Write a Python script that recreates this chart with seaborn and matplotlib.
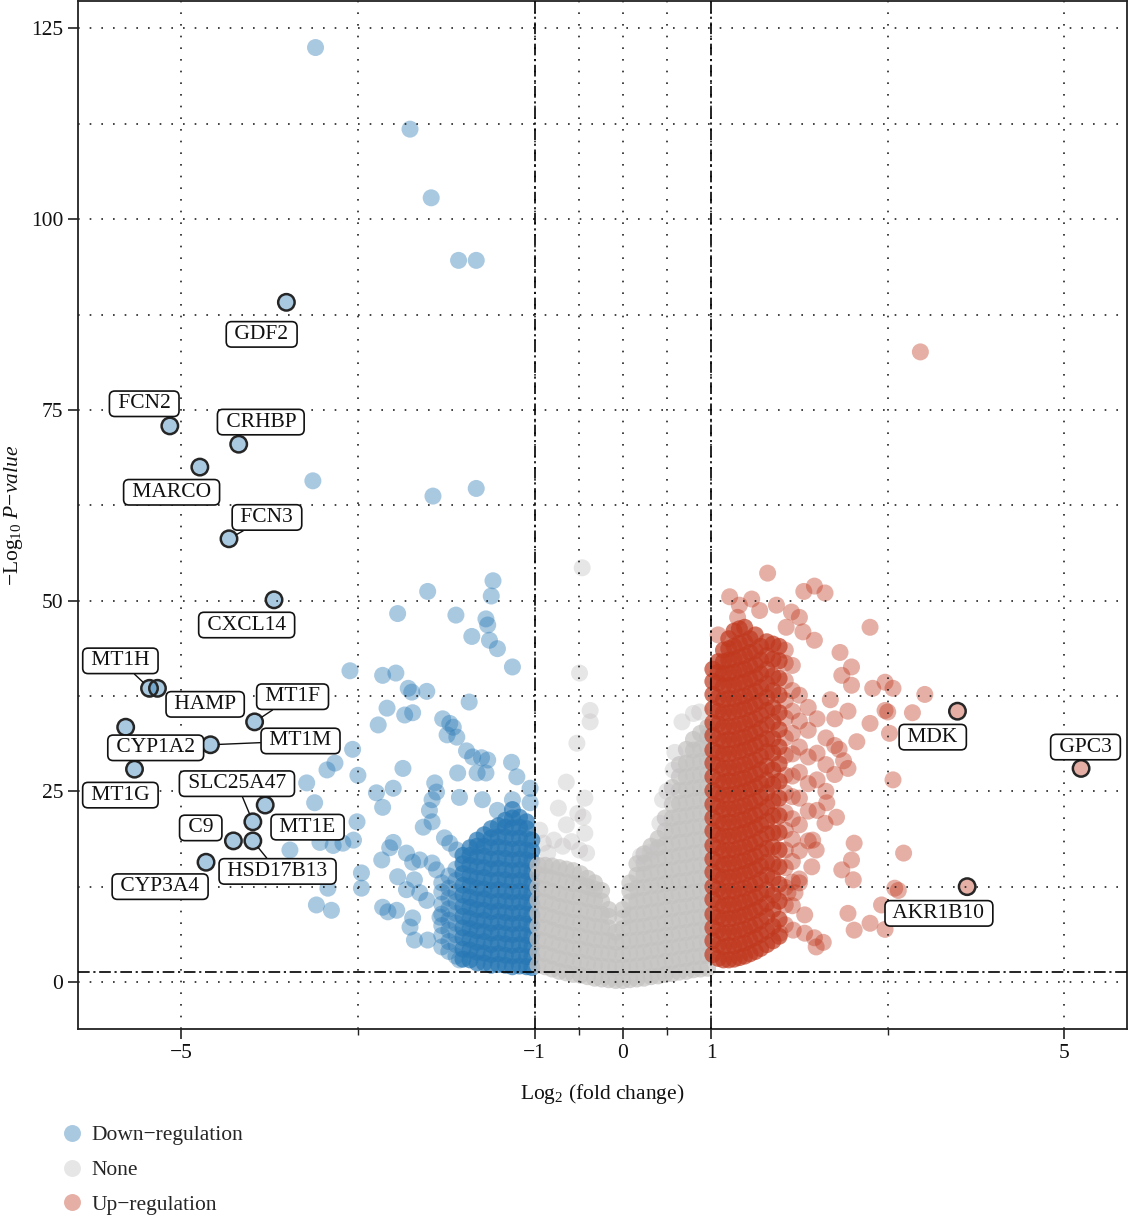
import matplotlib
matplotlib.use("Agg")
import matplotlib.pyplot as plt
import seaborn as sns
import pandas as pd
from matplotlib.lines import Line2D

# ---------------- data ----------------
# labelled genes
lab_gene = ["GDF2", "FCN2", "CRHBP", "MARCO", "FCN3", "CXCL14", "MT1H", "HAMP",
            "MT1F", "CYP1A2", "MT1M", "MT1G", "MT1E", "SLC25A47", "C9", "HSD17B13",
            "CYP3A4", "MDK", "GPC3", "AKR1B10"]
lab_x = [-3.81, -5.13, -4.35, -4.79, -4.46, -3.95, -5.36, -5.27, -4.17, -5.63,
         -4.67, -5.53, -4.05, -4.19, -4.41, -4.19, -4.72, 3.79, 5.19, 3.90]
lab_y = [89.1, 72.9, 70.5, 67.5, 58.1, 50.1, 38.5, 38.5, 34.1, 33.4,
         31.1, 27.9, 23.2, 21.0, 18.5, 18.5, 15.7, 35.5, 28.0, 12.5]
lab_tx = [-4.09, -5.42, -4.10, -5.11, -4.03, -4.26, -5.69, -4.73, -3.74, -5.29,
          -3.65, -5.69, -3.57, -4.37, -4.78, -3.91, -5.24, 3.51, 5.24, 3.58]
lab_ty = [84.9, 75.8, 73.4, 64.2, 60.9, 46.8, 42.1, 36.4, 37.4, 30.7,
          31.6, 24.5, 20.3, 26.0, 20.2, 14.5, 12.5, 32.1, 30.8, 9.0]
lab_leader = [False, False, False, False, True, False, True, False, True, False,
              True, False, False, True, False, True, False, False, False, False]

# down-regulated, scattered points
down_x = [-3.48, -2.41, -2.17, -1.86, -1.66, -3.51, -2.15, -1.66, -2.21, -1.47,
          -1.49, -2.55, -1.89, -1.55, -1.53, -1.71, -1.51, -1.42, -1.25, -3.09,
          -2.72, -2.57, -2.43, -2.39, -2.22, -1.74, -2.67, -2.47, -2.38, -2.77,
          -2.04, -1.96, -1.92, -1.99, -1.88, -3.06, -1.77, -1.70, -1.60, -1.53,
          -1.26, -3.26, -3.35, -2.49, -1.87, -1.55, -3.00, -1.20, -3.58, -3.49,
          -2.79, -2.60, -2.72, -3.01, -3.05, -3.43, -3.28, -3.17, -3.77, -2.96,
          -2.96, -3.34, -3.47, -3.30, -2.13, -2.11, -2.16, -2.19, -2.26, -2.16,
          -1.85, -1.65, -1.59, -1.42, -1.25, -1.05, -1.05, -2.02, -1.96, -1.88,
          -2.60, -2.64, -2.73, -2.45, -2.38, -2.30, -2.16, -2.11, -2.55, -2.36,
          -2.45, -2.30, -2.22, -2.72, -2.56, -2.66, -2.38, -2.41, -2.36, -2.21,
          -2.07, -1.85]
down_y = [122.5, 111.8, 102.8, 94.6, 94.6, 65.7, 63.7, 64.7, 51.2, 52.6,
          50.6, 48.3, 48.1, 47.6, 46.8, 45.3, 44.8, 43.7, 41.3, 40.8,
          40.2, 40.5, 38.5, 38.0, 38.1, 36.7, 35.9, 35.0, 35.3, 33.7,
          34.5, 33.9, 33.4, 32.4, 32.1, 30.5, 30.3, 29.5, 29.4, 29.1,
          28.8, 28.7, 27.8, 28.0, 27.4, 27.4, 27.1, 26.9, 26.1, 23.5,
          24.8, 25.4, 22.9, 21.0, 18.6, 18.3, 17.9, 18.2, 17.3, 14.3,
          12.3, 12.3, 10.1, 9.4, 26.1, 24.9, 23.9, 22.5, 20.3, 21.0,
          24.2, 27.4, 23.9, 22.5, 23.9, 25.4, 23.5, 18.9, 18.2, 17.3,
          18.3, 17.6, 16.0, 16.9, 15.7, 16.0, 15.6, 14.7, 13.8, 13.4,
          12.1, 11.7, 10.7, 9.8, 9.4, 9.2, 8.4, 7.2, 5.5, 5.5,
          8.5, 2.9]

# down-regulated, fringe of the cloud (columns of points)
down_semi_x = [-2.05, -1.97, -1.89]
down_semi_y = [
    [4.6, 6.1, 7.4, 8.9, 10.2, 11.8, 13.0],
    [4.0, 5.3, 6.8, 8.1, 9.6, 11.0, 12.3, 13.9],
    [3.4, 4.9, 6.2, 7.7, 9.0, 10.5, 11.8, 13.3, 14.8],
]
# down-regulated, dense core (columns of points)
down_col_x = [-1.81, -1.73, -1.65, -1.57, -1.49, -1.41, -1.33, -1.25, -1.17,
              -1.09, -1.03]
down_col_y = [
    [3.0, 4.3, 5.8, 7.1, 8.6, 9.9, 11.4, 12.7, 14.2, 15.5, 16.6],
    [2.9, 4.2, 5.6, 7.0, 8.3, 9.8, 11.1, 12.6, 13.9, 15.3, 16.6, 17.6],
    [2.5, 3.9, 5.2, 6.7, 8.0, 9.5, 10.8, 12.3, 13.6, 15.1, 16.4, 17.8, 18.6],
    [2.5, 3.8, 5.3, 6.6, 8.1, 9.4, 10.9, 12.2, 13.7, 15.0, 16.5, 17.8, 19.3],
    [2.2, 3.6, 4.9, 6.4, 7.7, 9.2, 10.5, 12.0, 13.3, 14.8, 16.1, 17.6, 18.9, 20.1],
    [2.3, 3.7, 5.1, 6.5, 7.9, 9.3, 10.6, 12.1, 13.4, 14.9, 16.2, 17.7, 19.0, 20.5],
    [2.2, 3.5, 5.0, 6.3, 7.8, 9.1, 10.6, 11.9, 13.4, 14.7, 16.2, 17.5, 19.0, 20.3, 21.2],
    [2.0, 3.4, 4.8, 6.2, 7.6, 9.0, 10.4, 11.8, 13.2, 14.6, 16.0, 17.4, 18.8, 20.2, 21.5, 22.6],
    [2.1, 3.5, 4.9, 6.3, 7.7, 9.1, 10.5, 11.9, 13.3, 14.7, 16.1, 17.5, 18.9, 20.3, 21.6],
    [2.0, 3.3, 4.8, 6.1, 7.6, 8.9, 10.4, 11.7, 13.2, 14.5, 16.0, 17.3, 18.8, 20.1, 21.0],
    [1.9, 3.3, 4.6, 6.0, 7.4, 8.8, 10.2, 11.6, 13.0, 14.4, 15.8, 17.2, 18.6],
]

# not significant, scattered points
none_x = [-0.46, -0.49, -0.37, -0.37, -0.52, -0.64, -0.43, -0.73, -0.51, -0.64,
          -0.45, -0.43, -0.94, -0.90, -0.49, -0.41, -0.78, -0.68, -0.58, -0.85,
          0.67, 0.80, 0.87, 0.59, 0.57, 0.45, 0.42, 0.31, 0.50, 0.20]
none_y = [54.3, 40.5, 35.6, 34.1, 31.3, 26.2, 24.1, 22.8, 22.1, 20.6,
          21.6, 19.5, 19.9, 18.2, 17.3, 16.9, 18.6, 17.8, 18.4, 16.9,
          34.1, 35.2, 35.4, 30.1, 27.8, 23.9, 20.8, 17.0, 25.0, 16.5]

# not significant, dense cloud (columns of points)
none_col_x = [-0.96, -0.88, -0.80, -0.72, -0.64, -0.56, -0.48, -0.40, -0.32,
              -0.24, -0.16, -0.08, 0.00, 0.08, 0.16, 0.24, 0.32, 0.40, 0.48,
              0.56, 0.64, 0.72, 0.80, 0.88, 0.96]
none_col_y = [
    [2.2, 3.9, 5.6, 7.3, 9.0, 10.7, 12.4, 14.1, 15.3],
    [2.0, 3.7, 5.4, 7.1, 8.8, 10.5, 12.2, 13.9, 15.3],
    [1.7, 3.4, 5.1, 6.8, 8.5, 10.2, 11.9, 13.6, 15.2],
    [1.4, 3.1, 4.8, 6.5, 8.2, 9.9, 11.6, 13.3, 15.0],
    [1.2, 2.9, 4.6, 6.3, 8.0, 9.7, 11.4, 13.1, 14.8],
    [1.0, 2.7, 4.4, 6.1, 7.8, 9.5, 11.2, 12.9, 14.6],
    [0.9, 2.6, 4.3, 6.0, 7.7, 9.4, 11.1, 12.8, 14.2],
    [0.7, 2.4, 4.1, 5.8, 7.5, 9.2, 10.9, 12.5, 13.6],
    [0.5, 2.2, 3.9, 5.6, 7.3, 9.0, 10.7, 12.2, 13.0],
    [0.4, 2.1, 3.8, 5.5, 7.2, 8.9, 10.6, 12.0],
    [0.3, 2.0, 3.7, 5.4, 7.1, 8.6, 9.5],
    [0.2, 1.9, 3.6, 5.2, 6.5],
    [0.2, 1.9, 3.6, 5.3, 7.0, 8.4, 9.5],
    [0.3, 2.0, 3.7, 5.4, 7.1, 8.8, 10.5, 11.9, 13.0],
    [0.4, 2.1, 3.8, 5.5, 7.2, 8.9, 10.6, 12.3, 14.0, 15.5],
    [0.5, 2.2, 3.9, 5.6, 7.3, 9.0, 10.7, 12.4, 14.1, 15.6, 16.8],
    [0.7, 2.4, 4.1, 5.8, 7.5, 9.2, 10.9, 12.6, 14.3, 16.0, 17.8],
    [0.8, 2.5, 4.2, 5.9, 7.6, 9.3, 11.0, 12.7, 14.4, 16.1, 17.6, 18.8],
    [1.0, 2.7, 4.4, 6.1, 7.8, 9.5, 11.2, 12.9, 14.6, 16.3, 18.0, 19.8, 21.5],
    [1.1, 2.8, 4.5, 6.2, 7.9, 9.6, 11.3, 13.0, 14.7, 16.4, 18.1, 19.8, 21.5, 23.3, 25.5],
    [1.3, 3.0, 4.7, 6.4, 8.1, 9.8, 11.5, 13.2, 14.9, 16.6, 18.3, 20.0, 21.7, 23.4, 25.1, 26.9, 28.5],
    [1.4, 3.1, 4.8, 6.5, 8.2, 9.9, 11.6, 13.3, 15.0, 16.7, 18.4, 20.1, 21.8, 23.5, 25.2, 26.9, 28.7, 30.5],
    [1.6, 3.3, 5.0, 6.7, 8.4, 10.1, 11.8, 13.5, 15.2, 16.9, 18.6, 20.3, 22.0, 23.7, 25.4, 27.1, 28.8, 30.4, 31.8],
    [1.7, 3.4, 5.1, 6.8, 8.5, 10.2, 11.9, 13.6, 15.3, 17.0, 18.7, 20.4, 22.1, 23.8, 25.5, 27.2, 28.9, 30.6, 32.6],
    [1.8, 3.5, 5.2, 6.9, 8.6, 10.3, 12.0, 13.7, 15.4, 17.1, 18.8, 20.5, 22.2, 23.9, 25.6, 27.3, 29.0, 30.7, 32.2, 33.4],
]

# up-regulated, scattered points
up_x = [3.37, 1.64, 2.05, 2.17, 2.29, 1.21, 1.32, 1.46, 1.74, 1.91,
        2.00, 2.80, 2.17, 2.04, 2.46, 2.59, 2.48, 2.59, 2.83, 2.97,
        3.06, 3.42, 3.28, 3.00, 2.80, 3.02, 3.06, 3.18, 3.08, 3.12,
        2.93, 2.55, 2.62, 2.80, 2.97, 2.62, 2.59, 2.48, 2.61, 2.42,
        2.29, 2.31, 2.27, 2.17, 2.06, 1.95, 2.00, 2.14, 2.19, 2.15,
        1.87, 1.78, 1.93, 1.08, 1.30, 1.55, 1.85, 2.19, 2.06, 2.97,
        2.45, 2.55, 2.65, 2.40, 2.35, 2.55]
up_y = [82.6, 53.6, 51.2, 51.9, 51.0, 50.5, 49.4, 50.2, 49.4, 48.5,
        47.8, 46.5, 44.8, 45.9, 43.2, 41.3, 40.2, 38.9, 38.5, 39.3,
        38.5, 37.7, 35.3, 35.4, 33.9, 32.6, 26.5, 16.9, 12.3, 12.0,
        10.1, 9.0, 6.8, 7.7, 6.9, 18.2, 16.0, 14.7, 13.4, 21.6,
        20.8, 23.5, 5.2, 5.8, 8.8, 11.7, 13.0, 15.1, 17.3, 18.6,
        11.7, 6.4, 6.8, 45.5, 47.8, 48.7, 46.5, 4.6, 6.4, 35.6,
        30.5, 28.0, 31.5, 34.5, 37.0, 35.5]

# up-regulated, fringe of the cloud (columns of points)
up_semi_x = [1.84, 1.92, 2.00, 2.10, 2.20, 2.30, 2.40, 2.50]
up_semi_y = [
    [7.5, 10.1, 12.4, 15.0, 17.3, 19.9, 22.2, 24.8, 27.1, 29.7, 32.0, 34.6, 36.9, 39.5, 41.8, 43.5],
    [10.0, 13.1, 15.8, 18.7, 21.4, 24.3, 27.0, 29.9, 32.6, 35.5, 38.2, 41.5],
    [13.5, 17.2, 20.6, 24.1, 27.5, 30.8, 34.2, 37.6],
    [18.5, 22.4, 26.0, 29.5, 33.0, 36.0],
    [22.5, 26.5, 30.0, 34.5],
    [25.0, 28.5, 32.0],
    [27.2, 31.0],
    [29.0],
]
# up-regulated, dense core (columns of points)
up_col_x = [1.02, 1.08, 1.14, 1.20, 1.26, 1.32, 1.38, 1.44, 1.50, 1.56, 1.63,
            1.70, 1.77]
up_col_y = [
    [3.6, 5.4, 7.1, 8.9, 10.8, 12.5, 14.4, 16.1, 17.9, 19.8, 21.5, 23.3, 25.1, 26.9, 28.7, 30.4, 32.3, 34.0, 35.8, 37.7, 39.4, 41.0],
    [3.1, 4.9, 6.8, 8.5, 10.3, 12.2, 13.9, 15.7, 17.6, 19.3, 21.1, 23.0, 24.7, 26.5, 28.4, 30.1, 31.9, 33.8, 35.5, 37.3, 39.2, 40.6, 42.0],
    [2.9, 4.6, 6.4, 8.3, 10.0, 11.8, 13.7, 15.4, 17.2, 19.1, 20.8, 22.6, 24.5, 26.2, 28.0, 29.9, 31.6, 33.4, 35.3, 37.0, 38.8, 40.4, 42.0, 43.5],
    [2.9, 4.8, 6.5, 8.3, 10.2, 11.9, 13.7, 15.6, 17.3, 19.1, 21.0, 22.7, 24.5, 26.4, 28.1, 29.9, 31.8, 33.5, 35.3, 37.2, 38.9, 40.5, 42.2, 43.7, 45.0],
    [3.0, 4.7, 6.5, 8.4, 10.1, 11.9, 13.8, 15.5, 17.3, 19.2, 20.9, 22.7, 24.6, 26.3, 28.1, 30.0, 31.7, 33.5, 35.4, 37.1, 38.9, 40.6, 42.3, 44.0, 46.0],
    [3.2, 5.0, 6.8, 8.6, 10.4, 12.2, 14.0, 15.8, 17.6, 19.4, 21.2, 23.0, 24.8, 26.6, 28.4, 30.2, 32.0, 33.8, 35.6, 37.4, 39.2, 40.9, 42.6, 44.4, 46.3],
    [3.4, 5.1, 6.9, 8.8, 10.5, 12.3, 14.2, 15.9, 17.7, 19.6, 21.3, 23.1, 25.0, 26.7, 28.5, 30.4, 32.1, 33.9, 35.8, 37.5, 39.3, 41.0, 42.8, 44.6, 46.5],
    [3.7, 5.5, 7.3, 9.1, 10.9, 12.7, 14.5, 16.3, 18.1, 19.9, 21.7, 23.5, 25.3, 27.1, 28.9, 30.7, 32.5, 34.3, 36.1, 37.9, 39.7, 41.4, 43.2, 45.0],
    [4.0, 5.8, 7.5, 9.4, 11.1, 12.9, 14.8, 16.5, 18.3, 20.2, 21.9, 23.7, 25.6, 27.3, 29.1, 31.0, 32.7, 34.5, 36.4, 38.1, 39.9, 41.6, 43.4, 45.5],
    [4.4, 6.2, 8.0, 9.8, 11.6, 13.4, 15.2, 17.0, 18.8, 20.6, 22.4, 24.2, 26.0, 27.8, 29.6, 31.4, 33.2, 35.0, 36.8, 38.6, 40.4, 42.2, 44.0],
    [4.9, 6.7, 8.6, 10.3, 12.1, 14.0, 15.7, 17.5, 19.4, 21.1, 22.9, 24.8, 26.5, 28.3, 30.2, 31.9, 33.7, 35.6, 37.3, 39.1, 41.0, 42.8, 44.6],
    [5.4, 7.3, 9.5, 11.4, 13.6, 15.5, 17.7, 19.6, 21.8, 23.7, 25.9, 27.8, 30.0, 31.9, 34.1, 36.0, 38.2, 40.1, 42.3, 44.3],
    [6.0, 8.2, 10.6, 12.8, 15.1, 17.3, 19.6, 21.8, 24.1, 26.3, 28.6, 30.8, 33.1, 35.3, 37.6, 39.8, 42.1, 44.0],
]

group_names = ["Down\u2212regulation", "None", "Up\u2212regulation"]
group_colors = ["#2878b5", "#c4c2c1", "#c0391f"]

# ---------------- build tables ----------------
def expand(cx, cy):
    xs, ys = [], []
    for x, col in zip(cx, cy):
        xs += [x] * len(col)
        ys += list(col)
    return xs, ys

dsx, dsy = expand(down_semi_x, down_semi_y)
dcx, dcy = expand(down_col_x, down_col_y)
ncx, ncy = expand(none_col_x, none_col_y)
usx, usy = expand(up_semi_x, up_semi_y)
ucx, ucy = expand(up_col_x, up_col_y)
lab_dx = [x for x in lab_x if x < 0]
lab_dy = [y for x, y in zip(lab_x, lab_y) if x < 0]
lab_ux = [x for x in lab_x if x > 0]
lab_uy = [y for x, y in zip(lab_x, lab_y) if x > 0]

def table(parts):
    return pd.concat([pd.DataFrame({"logFC": xs, "logP": ys, "group": g})
                      for g, xs, ys in parts], ignore_index=True)

df_sparse = table([("Down", down_x + dsx + lab_dx, down_y + dsy + lab_dy),
                   ("None", none_x, none_y),
                   ("Up", up_x + usx + lab_ux, up_y + usy + lab_uy)])
df_dense = table([("Down", dcx, dcy), ("None", ncx, ncy), ("Up", ucx, ucy)])
palette = {"Down": group_colors[0], "None": group_colors[1], "Up": group_colors[2]}

# ---------------- plot ----------------
sns.set_theme(style="ticks")
plt.rcParams["font.family"] = ["Liberation Serif", "DejaVu Serif"]
plt.rcParams["mathtext.fontset"] = "custom"
plt.rcParams["mathtext.rm"] = "Liberation Serif"
plt.rcParams["mathtext.it"] = "Liberation Serif:italic"
plt.rcParams["axes.unicode_minus"] = True
FS = 15.5

fig = plt.figure(figsize=(11.29, 12.19), dpi=100)
ax = fig.add_axes([78 / 1129, 190 / 1219, 1049 / 1129, 1028 / 1219])

sns.scatterplot(data=df_sparse, x="logFC", y="logP", hue="group", palette=palette,
                s=150, alpha=0.4, linewidth=0, legend=False, ax=ax, zorder=1)
sns.scatterplot(data=df_dense, x="logFC", y="logP", hue="group", palette=palette,
                s=150, alpha=0.7, linewidth=0, legend=False, ax=ax, zorder=1.1)

ax.scatter(lab_x, lab_y, s=140, facecolors="none", edgecolors="#262626",
           linewidths=1.8, zorder=4)

ax.set_xlim(-6.17, 5.71)
ax.set_ylim(-6.16, 128.6)
ax.set_xticks([-5, -1, 0, 1, 5])
ax.set_xticks([-3, -0.5, 0.5, 3], minor=True)
ax.set_yticks([0, 25, 50, 75, 100, 125])
ax.set_yticks([12.5, 37.5, 62.5, 87.5, 112.5], minor=True)
ax.set_axisbelow(False)
ax.grid(True, which="both", linestyle=(0, (1, 6)), linewidth=1.2, color="#222222")
ax.tick_params(which="major", direction="out", length=7, width=1.2,
               labelsize=FS, color="#222222", labelcolor="#111111")
ax.tick_params(axis="x", which="minor", length=4, width=1.0, color="#222222")
ax.tick_params(axis="y", which="minor", length=0)
for sp in ax.spines.values():
    sp.set_linewidth(1.3)
    sp.set_color("#222222")

dashdot = (0, (7, 2.2, 1.3, 2.2))
ax.axvline(-1, color="black", lw=1.2, linestyle=dashdot, zorder=3)
ax.axvline(1, color="black", lw=1.2, linestyle=dashdot, zorder=3)
ax.axhline(1.3, color="black", lw=1.2, linestyle=dashdot, zorder=3)

for g, x, y, tx, ty, ld in zip(lab_gene, lab_x, lab_y, lab_tx, lab_ty, lab_leader):
    ax.annotate(" " + g + " ", xy=(x, y), xytext=(tx, ty), ha="center", va="center",
                fontsize=FS, color="#111111", zorder=6,
                bbox=dict(boxstyle="round,pad=0.15,rounding_size=0.25",
                          fc="white", ec="#111111", lw=1.2),
                arrowprops=(dict(arrowstyle="-", color="#111111", lw=1.0,
                                 shrinkA=0, shrinkB=6) if ld else None))

ax.set_xlabel("Log$_2$ (fold change)", fontsize=FS, labelpad=14, color="#111111")
ax.set_ylabel("\u2212Log$_{10}$ $\\mathit{P}$\u2212$\\mathit{value}$", fontsize=FS,
              labelpad=4, color="#111111")

handles = [Line2D([0], [0], marker="o", linestyle="", markersize=12.2,
                  markerfacecolor=c, markeredgewidth=0, alpha=0.4)
           for c in group_colors]
fig.legend(handles, group_names, loc="center left",
           bbox_to_anchor=(61 / 1129, 1 - 1170 / 1219), frameon=False,
           fontsize=FS, handlelength=1.0, handletextpad=0.4,
           labelspacing=0.68, borderpad=0, borderaxespad=0)

fig.savefig("out.png", dpi=100)
